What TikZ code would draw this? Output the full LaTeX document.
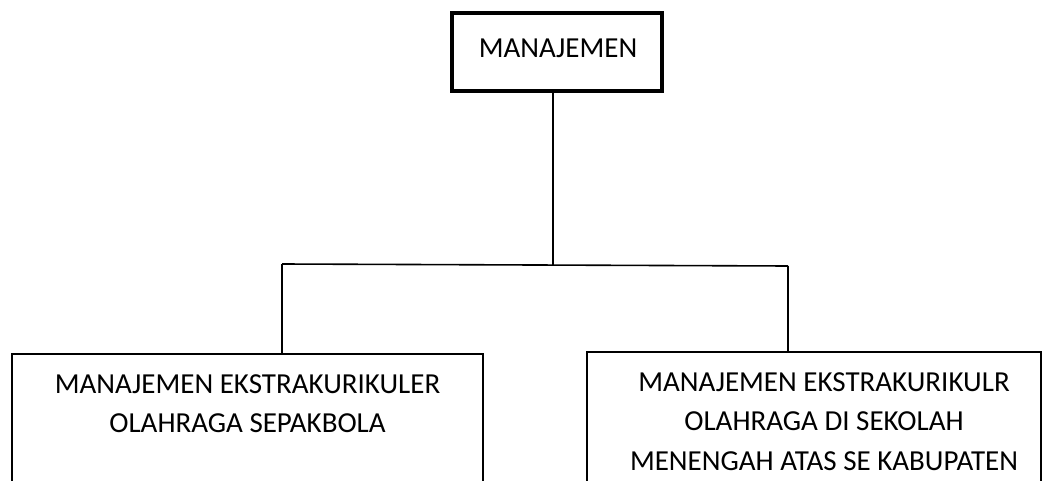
\documentclass[tikz,border=0pt]{standalone}
\usepackage{fontspec}
\setmainfont{Carlito}
\begin{document}
\begin{tikzpicture}[x=1pt,y=-1pt,
  txt/.style={align=center, font=\fontsize{29}{39.5}\selectfont, inner sep=0pt},
  topbox/.style={draw, line width=4pt, minimum width=210pt, minimum height=78pt, inner sep=0pt},
  lowbox/.style={draw, line width=1.2pt, minimum height=200pt, inner sep=0pt},
  conn/.style={line width=1.6pt}]
\useasboundingbox (0,0) rectangle (1047,481);
\clip (0,0) rectangle (1047,481);
\node[topbox] (top) at (557,52) {};
\node[txt] (toplabel) at (558,48) {MANAJEMEN};
\node[lowbox, minimum width=471pt] (left) at (247.5,454) {};
\node[lowbox, minimum width=454pt] (right) at (814,452) {};
\node[txt] (lefttext) at (247.5,403.5) {MANAJEMEN EKSTRAKURIKULER\\OLAHRAGA SEPAKBOLA};
\node[txt] (righttext) at (824,421.5) {MANAJEMEN EKSTRAKURIKULR\\OLAHRAGA DI SEKOLAH\\MENENGAH ATAS SE KABUPATEN};
\coordinate (j) at (553,265);
\coordinate (l) at (282,264);
\coordinate (r) at (788,266);
\draw[conn] (top.south -| j) -- (j);
\draw[conn] (l) -- (r);
\draw[conn] (l) -- (l |- left.north);
\draw[conn] (r) -- (r |- right.north);
\end{tikzpicture}
\end{document}
